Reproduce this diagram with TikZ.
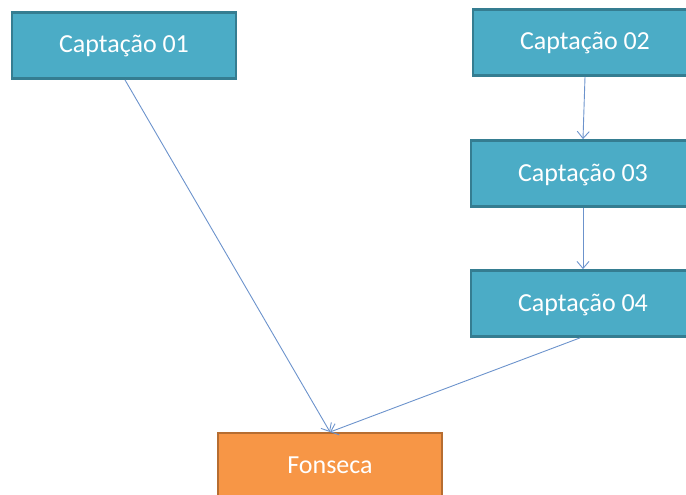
\documentclass[tikz,border=0pt]{standalone}
\usepackage{fontspec}
\setmainfont{Carlito}
\usetikzlibrary{arrows.meta}
\definecolor{tealfill}{HTML}{4BACC6}
\definecolor{tealline}{HTML}{357D91}
\definecolor{orfill}{HTML}{F79646}
\definecolor{orline}{HTML}{B66D31}
\definecolor{arrowc}{HTML}{6C93CC}
\tikzset{
  box/.style={draw=tealline, fill=tealfill, line width=2.8pt, minimum width=224pt, minimum height=66pt, inner sep=0pt, text=white, font=\fontsize{26}{30}\selectfont, text height=17pt, text depth=2pt},
  obox/.style={box, draw=orline, fill=orfill},
  conn/.style={draw=arrowc, line width=0.9pt, -{Straight Barb[length=7pt,width=12pt]}}
}
\begin{document}
\begin{tikzpicture}[x=1pt,y=-1pt]
\useasboundingbox (0,0) rectangle (686,495);
\clip (0,0) rectangle (686,495);
\node[box] (c1) at (124,45.5) {Captação 01};
\node[box] (c2) at (585,42.5) {Captação 02};
\node[box] (c3) at (583,173.5) {Captação 03};
\node[box] (c4) at (583,303.5) {Captação 04};
\node[obox] (f) at (330,466) {Fonseca};
\coordinate (fa) at (330,432);
\draw[conn] (c1.south) ++(1,0) -- (fa);
\draw[conn] (c2.south) -- (c3.north);
\draw[conn] (c3.south) -- (c4.north);
\draw[conn] (c4.south) ++(-3,0) -- (fa);
\end{tikzpicture}
\end{document}
